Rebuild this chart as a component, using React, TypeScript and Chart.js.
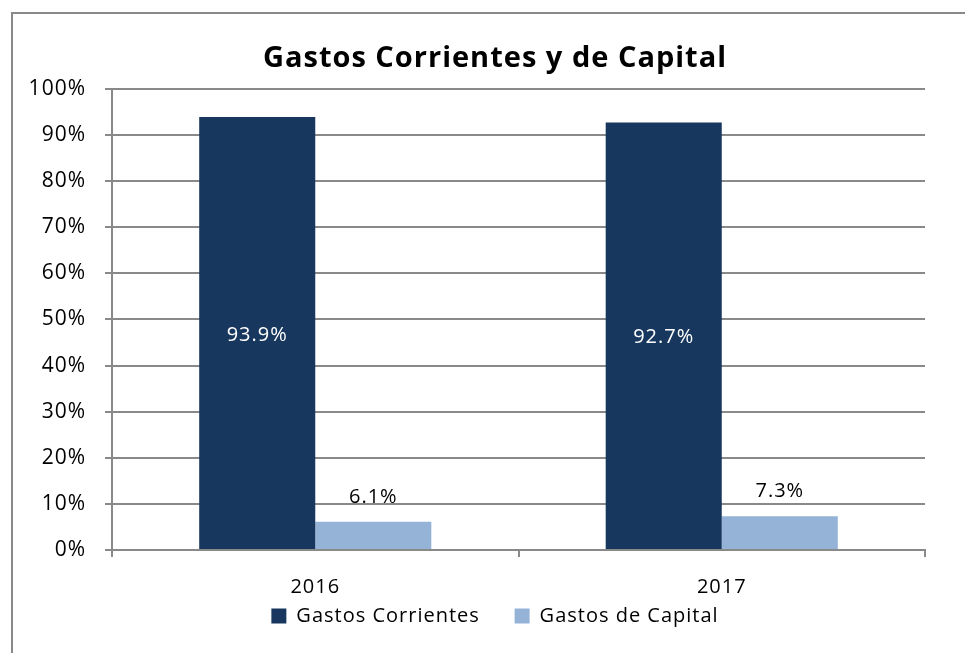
import React, { useEffect, useRef } from "react";
import { Chart, registerables } from "chart.js";

Chart.register(...registerables);

const categories = ["2016", "2017"];
const seriesNames = ["Gastos Corrientes", "Gastos de Capital"];
const gastosCorrientes = [93.9, 92.7];
const gastosCapital = [6.1, 7.3];
const yTicksMax = 100;
const yTickStep = 10;
const titleText = "Gastos Corrientes y de Capital";

const FONT = "'Open Sans', 'Noto Sans', sans-serif";
const DARK = "#17375E";
const LIGHT = "#95B3D7";
const GRID = "#898989";

const spacingPlugin = {
  id: "spacing",
  beforeUpdate(chart: any) {
    (chart.ctx as any).letterSpacing = "1px";
  },
  beforeDraw(chart: any) {
    (chart.ctx as any).letterSpacing = "1px";
  },
};

const borderPlugin = {
  id: "outerBorder",
  beforeDraw(chart: any) {
    const ctx = chart.ctx;
    ctx.save();
    ctx.fillStyle = "#ffffff";
    ctx.fillRect(0, 0, chart.width, chart.height);
    ctx.strokeStyle = GRID;
    ctx.lineWidth = 2;
    ctx.strokeRect(12, 13, 1000, 700);
    ctx.restore();
  },
};

const labelPlugin = {
  id: "barLabels",
  afterDatasetsDraw(chart: any) {
    const ctx = chart.ctx;
    ctx.save();
    ctx.font = `20px ${FONT}`;
    ctx.textAlign = "center";
    ctx.textBaseline = "middle";
    chart.data.datasets.forEach((ds: any, di: number) => {
      const meta = chart.getDatasetMeta(di);
      meta.data.forEach((bar: any, i: number) => {
        const v = ds.data[i];
        const txt = v.toFixed(1) + "%";
        if (di === 0) {
          ctx.fillStyle = "#ffffff";
          ctx.fillText(txt, bar.x, (bar.y + bar.base) / 2 + 2);
        } else {
          ctx.fillStyle = "#000000";
          ctx.fillText(txt, bar.x, bar.y - 25);
        }
      });
    });
    ctx.restore();
  },
};

export default function App() {
  const ref = useRef<HTMLCanvasElement | null>(null);
  useEffect(() => {
    if (!ref.current) return;
    const chart = new Chart(ref.current, {
      type: "bar",
      data: {
        labels: categories,
        datasets: [
          {
            label: seriesNames[0],
            data: gastosCorrientes,
            backgroundColor: DARK,
            categoryPercentage: 0.571,
            barPercentage: 1,
          },
          {
            label: seriesNames[1],
            data: gastosCapital,
            backgroundColor: LIGHT,
            categoryPercentage: 0.571,
            barPercentage: 1,
          },
        ],
      },
      options: {
        animation: false,
        responsive: false,
        devicePixelRatio: 1,
        layout: { padding: { left: 15, right: -10, top: 0, bottom: 17 } },
        plugins: {
          title: {
            display: true,
            text: titleText,
            color: "#000000",
            font: { family: FONT, size: 29, weight: "bold" },
            padding: { top: 41, bottom: 13 },
          },
          legend: {
            position: "bottom",
            labels: {
              color: "#000000",
              font: { family: FONT, size: 20 },
              boxWidth: 15,
              boxHeight: 15,
              padding: 10,
              generateLabels: (c: any) => {
                const items = (Chart.defaults.plugins.legend.labels as any).generateLabels(c);
                items.forEach((it: any, idx: number) => {
                  if (idx < items.length - 1) it.text = it.text + "    ";
                });
                return items;
              },
            },
          },
          tooltip: { enabled: false },
        },
        scales: {
          x: {
            grid: {
              drawOnChartArea: false,
              drawTicks: true,
              tickLength: 7,
              color: GRID,
              lineWidth: 2,
              offset: true,
            },
            border: { color: GRID, width: 2 },
            ticks: {
              color: "#000000",
              font: { family: FONT, size: 20 },
              padding: 18,
            },
            afterFit(scale: any) {
              scale.height = 46;
            },
          },
          y: {
            min: 0,
            max: yTicksMax,
            grid: {
              color: GRID,
              lineWidth: 2,
              tickLength: 7,
            },
            border: { color: GRID, width: 2 },
            ticks: {
              stepSize: yTickStep,
              color: "#000000",
              font: { family: FONT, size: 21 },
              padding: 19,
              callback: (v: any) => v + "%",
            },
            afterFit(scale: any) {
              scale.width = 97;
            },
          },
          y2: {
            position: "right",
            display: true,
            grid: { display: false, drawTicks: false },
            border: { display: false },
            ticks: { display: false },
            afterFit(scale: any) {
              scale.width = 50;
            },
          },
        },
      },
      plugins: [spacingPlugin, borderPlugin, labelPlugin],
    });
    return () => chart.destroy();
  }, []);
  return (
    <canvas
      ref={ref}
      width={965}
      height={653}
      style={{ position: "fixed", left: 0, top: 0, width: 965, height: 653 }}
    />
  );
}
